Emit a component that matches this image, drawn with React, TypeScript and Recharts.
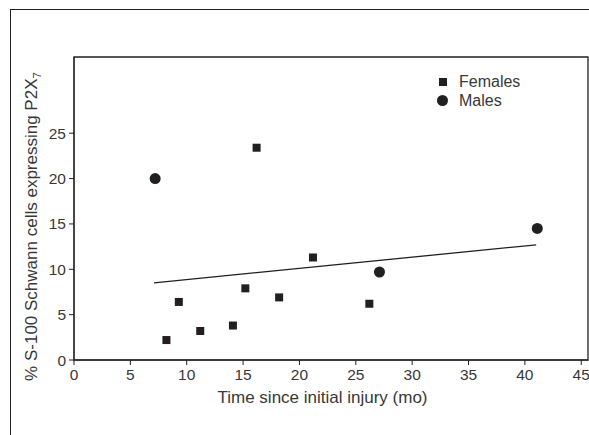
import React from 'react';
import {
  ScatterChart,
  Scatter,
  XAxis,
  YAxis,
  ReferenceArea,
} from 'recharts';

// values
const femalesX = [8.2, 9.3, 11.2, 14.1, 15.2, 16.2, 18.2, 21.2, 26.2];
const femalesY = [2.2, 6.4, 3.2, 3.8, 7.9, 23.4, 6.9, 11.3, 6.2];
const malesX = [7.2, 27.1, 41.1];
const malesY = [20.0, 9.7, 14.5];
const trendX = [7.1, 41.0];
const trendY = [8.5, 12.7];
const xTicks = [0, 5, 10, 15, 20, 25, 30, 35, 40, 45];
const yTicks = [0, 5, 10, 15, 20, 25];

const females = femalesX.map((x, i) => ({ x, y: femalesY[i] }));
const males = malesX.map((x, i) => ({ x, y: malesY[i] }));
const trend = trendX.map((x, i) => ({ x, y: trendY[i] }));

const INK = '#231f20';
const TEXT = '#383838';
const FONT = '"Liberation Sans", Arial, Helvetica, sans-serif';

const SquareDot = (props: any) => (
  <rect x={props.cx - 4} y={props.cy - 4} width={8} height={8} fill={INK} />
);
const CircleDot = (props: any) => <circle cx={props.cx} cy={props.cy} r={5.5} fill={INK} />;
const NoDot = () => <g />;

// legend drawn as an overlay so it does not eat into the plot area
const LegendBox = () => (
  <div
    style={{
      position: 'absolute',
      left: 437,
      top: 73,
      fontFamily: FONT,
      fontSize: 16,
      color: TEXT,
      lineHeight: '18.5px',
    }}
  >
    <div style={{ display: 'flex', alignItems: 'center' }}>
      <span style={{ display: 'inline-block', width: 8, height: 8, background: INK, marginLeft: 1.5, marginRight: 12.5 }} />
      Females
    </div>
    <div style={{ display: 'flex', alignItems: 'center' }}>
      <span style={{ display: 'inline-block', width: 11, height: 11, borderRadius: '50%', background: INK, marginRight: 11 }} />
      Males
    </div>
  </div>
);

const YLabel = ({ viewBox }: any) => {
  const cx = viewBox.x + 31;
  const cy = viewBox.y + viewBox.height / 2 + 18;
  return (
    <text
      x={cx}
      y={cy}
      transform={`rotate(-90 ${cx} ${cy})`}
      textAnchor="middle"
      dy="0.35em"
      fill={TEXT}
      fontSize={17}
      fontFamily={FONT}
    >
      % S-100 Schwann cells expressing P2X
      <tspan fontSize={11.5} dy={4}>7</tspan>
    </text>
  );
};

const XLabel = ({ viewBox }: any) => (
  <text
    x={viewBox.x + viewBox.width / 2 - 8.5}
    y={viewBox.y + 43}
    textAnchor="middle"
    fill={TEXT}
    fontSize={17}
    fontFamily={FONT}
  >
    Time since initial injury (mo)
  </text>
);

export default function App() {
  return (
    <div style={{ position: 'absolute', left: 0, top: 0, width: 589, height: 435, overflow: 'hidden', background: '#fff' }}>
      <div
        style={{
          position: 'absolute',
          left: 10,
          top: 9,
          width: 700,
          height: 600,
          border: `1.5px solid ${INK}`,
        }}
      />
      <ScatterChart width={589} height={435} margin={{ top: 57, right: 1, bottom: 30, left: 0 }}>
        <XAxis
          type="number"
          dataKey="x"
          domain={[0, 45.6]}
          ticks={xTicks}
          allowDataOverflow
          height={45}
          tickSize={5}
          tickMargin={4}
          stroke={INK}
          tick={{ fill: TEXT, fontSize: 15.5, fontFamily: FONT }}
          label={<XLabel />}
        />
        <YAxis
          type="number"
          dataKey="y"
          domain={[0, 33.4]}
          ticks={yTicks}
          allowDataOverflow
          width={74}
          tickSize={5}
          tickMargin={3}
          stroke={INK}
          tick={{ fill: TEXT, fontSize: 15.5, fontFamily: FONT }}
          label={<YLabel />}
        />
        <ReferenceArea x1={0} x2={45.6} y1={0} y2={33.4} fill="none" stroke={INK} strokeWidth={1.3} />
        <Scatter name="Females" data={females} shape={<SquareDot />} isAnimationActive={false} />
        <Scatter name="Males" data={males} shape={<CircleDot />} isAnimationActive={false} />
        <Scatter
          name="trend"
          data={trend}
          line={{ stroke: INK, strokeWidth: 1.3 }}
          shape={<NoDot />}
          legendType="none"
          isAnimationActive={false}
        />
      </ScatterChart>
      <LegendBox />
    </div>
  );
}
